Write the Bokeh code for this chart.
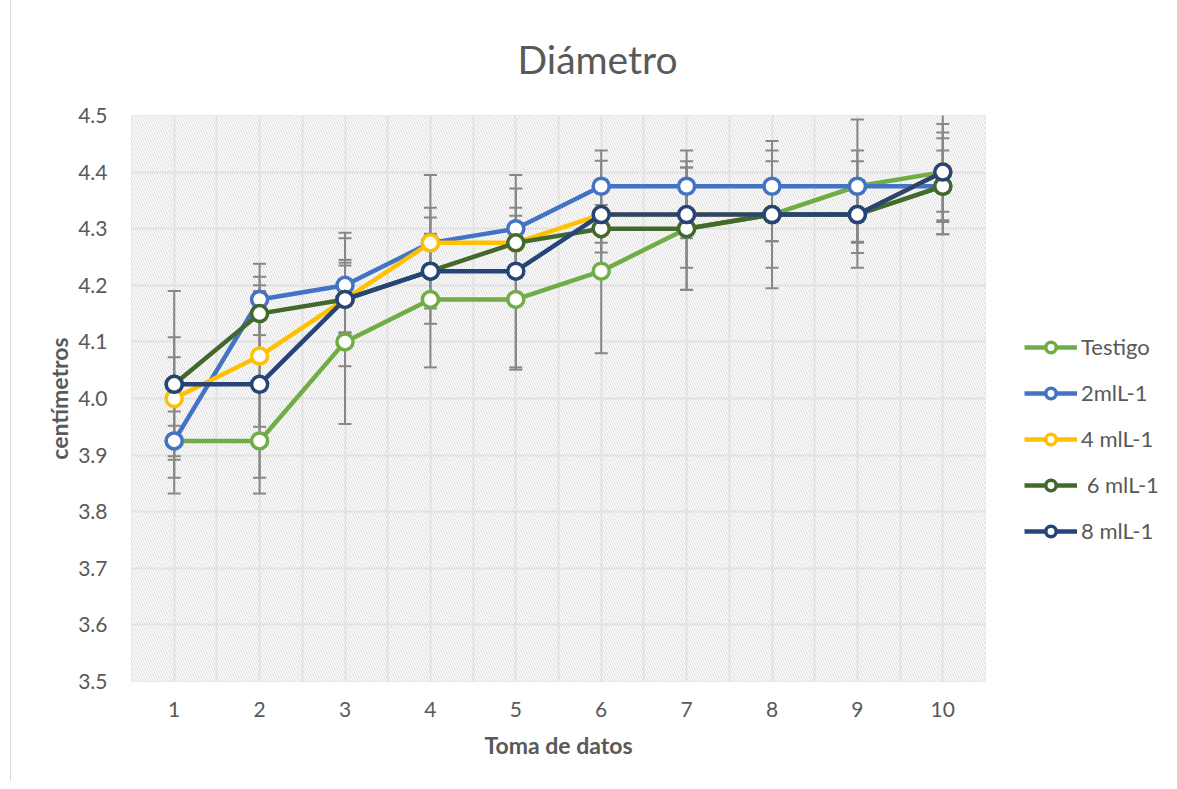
from bokeh.plotting import figure
from bokeh.models import (Range1d, FixedTicker, PrintfTickFormatter, ColumnDataSource,
                          Legend, LegendItem)
from bokeh.embed import file_html
from bokeh.resources import INLINE

# ---- data ----
toma = [1, 2, 3, 4, 5, 6, 7, 8, 9, 10]
series_names = ["Testigo", "2mlL-1", "4 mlL-1", " 6 mlL-1", "8 mlL-1"]

testigo = [3.925, 3.925, 4.100, 4.175, 4.175, 4.225, 4.300, 4.325, 4.375, 4.400]
ml2 = [3.925, 4.175, 4.200, 4.275, 4.300, 4.375, 4.375, 4.375, 4.375, 4.375]
ml4 = [4.000, 4.075, 4.175, 4.275, 4.275, 4.325, 4.325, 4.325, 4.325, 4.400]
ml6 = [4.025, 4.150, 4.175, 4.225, 4.275, 4.300, 4.300, 4.325, 4.325, 4.375]
ml8 = [4.025, 4.025, 4.175, 4.225, 4.225, 4.325, 4.325, 4.325, 4.325, 4.400]

err_testigo = [0.093, 0.093, 0.145, 0.043, 0.124, 0.145, 0.108, 0.130, 0.118, 0.110]
err_ml2 = [0.027, 0.063, 0.083, 0.045, 0.071, 0.063, 0.063, 0.063, 0.063, 0.063]
err_ml4 = [0.108, 0.125, 0.065, 0.062, 0.048, 0.050, 0.042, 0.047, 0.050, 0.085]
err_ml6 = [0.048, 0.065, 0.060, 0.066, 0.062, 0.042, 0.108, 0.047, 0.048, 0.085]
err_ml8 = [0.165, 0.165, 0.118, 0.170, 0.170, 0.095, 0.094, 0.094, 0.094, 0.070]

y_ticks = [3.5, 3.6, 3.7, 3.8, 3.9, 4.0, 4.1, 4.2, 4.3, 4.4, 4.5]

colors = ["#70AD47", "#4472C4", "#FFC000", "#43682B", "#264478"]
values = [testigo, ml2, ml4, ml6, ml8]
errors = [err_testigo, err_ml2, err_ml4, err_ml6, err_ml8]

FONT = "Lato"
TXT = "#595959"

p = figure(frame_width=854, frame_height=566,
           x_range=Range1d(0.5, 10.5), y_range=Range1d(3.5, 4.5),
           output_backend="svg", toolbar_location=None,
           min_border_left=120, min_border_right=184,
           min_border_top=10, min_border_bottom=100,
           background_fill_color="white", border_fill_color="white")
p.styles = {"margin-left": "10px", "border-left": "1px solid #d9d9d9"}

p.title.text = "Diámetro"
p.title.align = "left"
p.title.text_font = FONT
p.title.text_font_size = "39px"
p.title.text_font_style = "normal"
p.title.text_color = TXT
p.title.offset = 386
p.title.standoff = 67

# hatched plot area background
p.quad(left=[0.5], right=[10.5], bottom=[3.5], top=[4.5],
       fill_color="white", line_color=None,
       hatch_pattern="\\", hatch_color="#dadada", hatch_scale=5, hatch_weight=1,
       level="image")

# grids
half_steps = [0.5 + 0.5 * i for i in range(21)]
p.xgrid.ticker = FixedTicker(ticks=half_steps)
p.ygrid.ticker = FixedTicker(ticks=y_ticks)
for g in (p.xgrid, p.ygrid):
    g.grid_line_color = "#e2e2e2"
    g.grid_line_width = 2
p.outline_line_color = "#e2e2e2"

# axes
p.xaxis.ticker = FixedTicker(ticks=toma)
p.yaxis.ticker = FixedTicker(ticks=y_ticks)
p.yaxis.formatter = PrintfTickFormatter(format="%.1f")
for ax in (p.xaxis, p.yaxis):
    ax.axis_line_color = None
    ax.major_tick_line_color = None
    ax.minor_tick_line_color = None
    ax.major_label_text_font = FONT
    ax.major_label_text_font_size = "21px"
    ax.major_label_text_color = TXT
    ax.axis_label_text_font = FONT
    ax.axis_label_text_font_size = "23px"
    ax.axis_label_text_font_style = "bold"
    ax.axis_label_text_color = TXT
p.xaxis.axis_label = "Toma de datos"
p.yaxis.axis_label = "centímetros"
p.xaxis.major_label_standoff = 14
p.yaxis.major_label_standoff = 18
p.xaxis.axis_label_standoff = 11
p.yaxis.axis_label_standoff = 2

# error bars (drawn under series)
for vals, errs in zip(values, errors):
    lo = [v - e for v, e in zip(vals, errs)]
    hi = [v + e for v, e in zip(vals, errs)]
    p.segment(x0=toma, y0=lo, x1=toma, y1=hi, line_color="#878787", line_width=2)
    p.scatter(x=toma + toma, y=lo + hi, marker="dash", size=13,
              line_color="#878787", line_width=2)

items = []
for name, vals, col in zip(series_names, values, colors):
    src = ColumnDataSource(dict(x=toma, y=vals))
    lr = p.line("x", "y", source=src, line_color=col, line_width=4.5)
    sr = p.scatter("x", "y", source=src, size=16, fill_color="white",
                   line_color=col, line_width=3.5)
    items.append(LegendItem(label=name, renderers=[lr, sr]))

legend = Legend(items=items, location=(39, 137), orientation="vertical",
                glyph_width=53, glyph_height=26, spacing=19, padding=0, margin=0,
                label_standoff=4, label_text_font=FONT, label_text_font_size="22px",
                label_text_color=TXT, border_line_color=None,
                background_fill_alpha=0)
p.add_layout(legend, "right")

open("out.html", "w").write(file_html(p, INLINE))
